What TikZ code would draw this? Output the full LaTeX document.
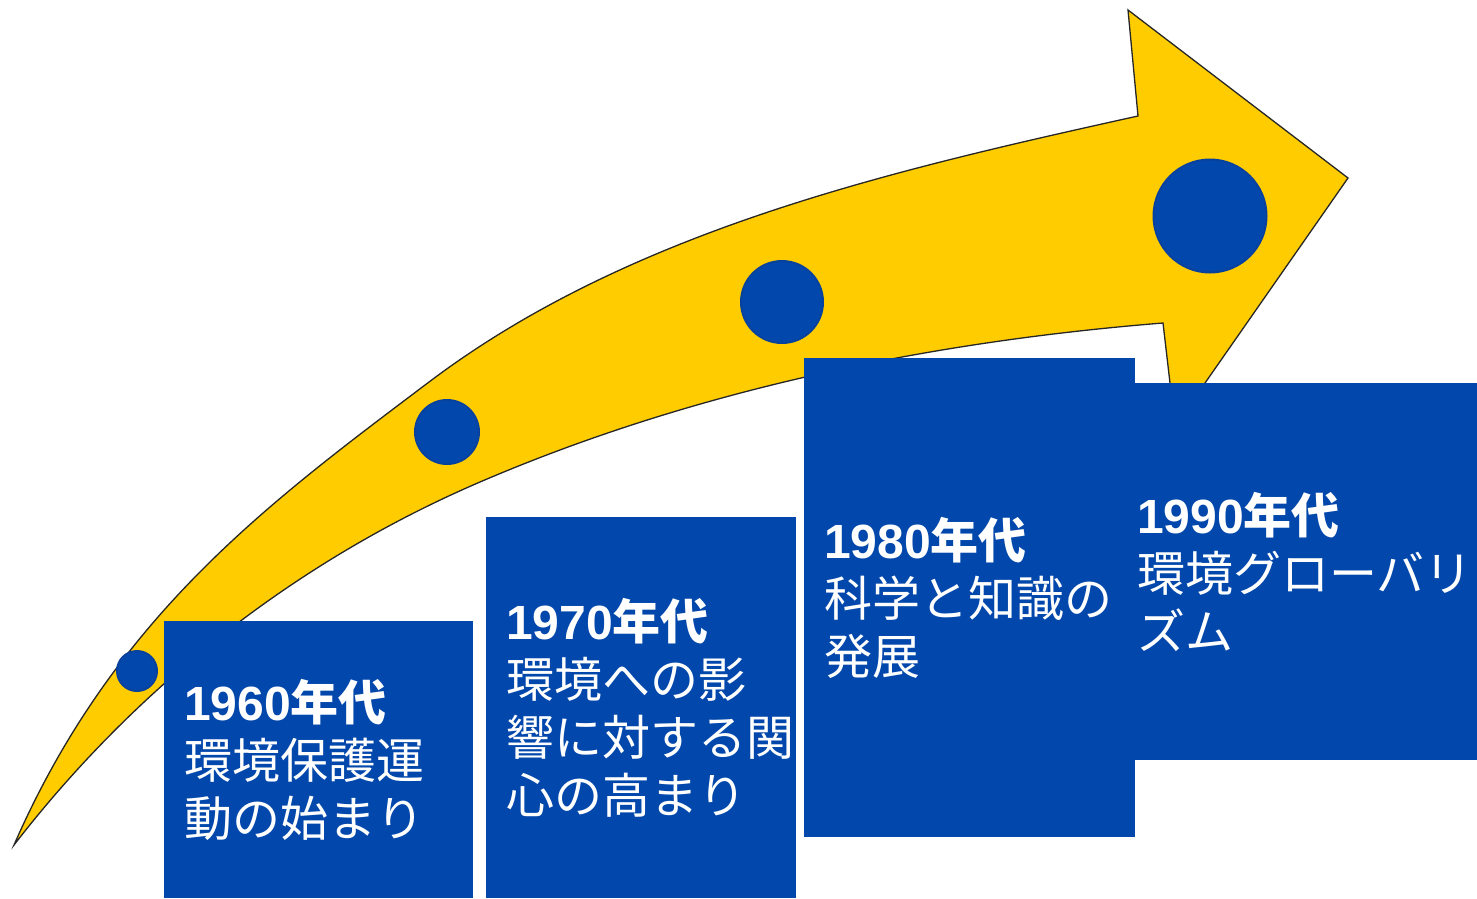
\documentclass[tikz,border=0pt]{standalone}
\usepackage{fontspec}
\newfontfamily\cjk{Noto Sans CJK JP}
\newfontfamily\lat{Liberation Sans}
\definecolor{arrowyellow}{RGB}{255,204,0}
\definecolor{boxblue}{RGB}{2,71,171}
\definecolor{dotedge}{RGB}{8,66,158}
\begin{document}
\begin{tikzpicture}[x=1pt,y=-1pt,
  box/.style={fill=boxblue, text=white, anchor=north west, align=left,
    inner ysep=0pt, font=\cjk\fontsize{48}{58}\selectfont},
  dot/.style={circle, fill=boxblue, draw=dotedge, line width=2pt, inner sep=0pt},
  arrowbody/.style={fill=arrowyellow, draw=black!85, line width=1.3pt, line join=miter}]
\useasboundingbox (0,0) rectangle (1477,898);

% curved arrow
\coordinate (tail) at (14,845);
\coordinate (upmid) at (429,382);
\coordinate (notchtop) at (1138,116);
\coordinate (headtop) at (1128,10);
\coordinate (tip) at (1348,178);
\coordinate (headbot) at (1175,426);
\coordinate (notchbot) at (1163,323);
\coordinate (lowmid) at (480,482);
\path[arrowbody] (tail)
  .. controls (114,616) and (269.4,502.4) .. (upmid)
  .. controls (630,230.3) and (892,170.4) .. (notchtop)
  -- (headtop) -- (tip) -- (headbot) -- (notchbot)
  .. controls (930,341.7) and (695,389.6) .. (lowmid)
  .. controls (296,561) and (136,687) .. (tail)
  -- cycle;

% dots
\node[dot, minimum size=40pt]  (d1) at (137,671) {};
\node[dot, minimum size=64pt]  (d2) at (447,432) {};
\node[dot, minimum size=82pt]  (d3) at (782,302) {};
\node[dot, minimum size=113pt] (d4) at (1210,216) {};

% boxes
\node[box, inner xsep=20pt, minimum width=309pt, text width=269pt, minimum height=277pt] (b1) at (164,621)
  {{\lat\bfseries 1960}{\bfseries 年代}\\環境保護運\\動の始まり};
\node[box, inner xsep=20pt, minimum width=310pt, text width=270pt, minimum height=381pt] (b2) at (486,517)
  {{\lat\bfseries 1970}{\bfseries 年代}\\環境への影\\響に対する関\\心の高まり};
\node[box, inner xsep=2pt, minimum width=342pt, text width=338pt, minimum height=377pt] (b4) at (1135,383)
  {{\lat\bfseries 1990}{\bfseries 年代}\\環境グローバリ\\ズム};
\node[box, inner xsep=20pt, minimum width=331pt, text width=291pt, minimum height=479pt] (b3) at (804,358)
  {{\lat\bfseries 1980}{\bfseries 年代}\\科学と知識の\\発展};
\end{tikzpicture}
\end{document}
